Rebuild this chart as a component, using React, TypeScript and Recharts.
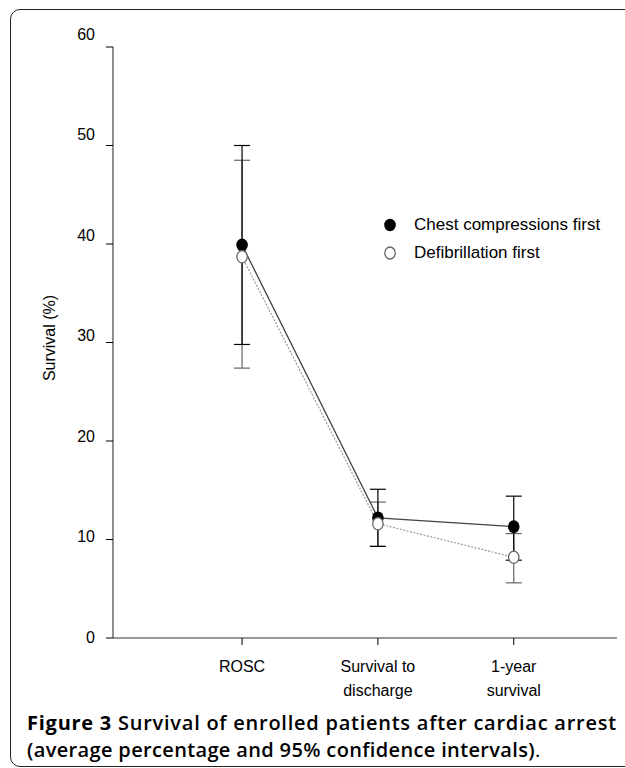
import { LineChart, Line, XAxis, YAxis, ErrorBar } from 'recharts'

// x positions of the three outcomes
const positions = [1, 2, 3]
const categoryLines = [['ROSC'], ['Survival to', 'discharge'], ['1-year', 'survival']]

// chest compressions first (filled)
const compressionsMean = [39.9, 12.2, 11.3]
const compressionsLow = [29.8, 9.3, 7.9]
const compressionsHigh = [50.0, 15.1, 14.4]

// defibrillation first (open)
const defibMean = [38.7, 11.6, 8.2]
const defibLow = [27.4, 9.3, 5.6]
const defibHigh = [48.5, 13.8, 10.6]

const yTicks = [0, 10, 20, 30, 40, 50, 60]

const data = positions.map((x, i) => ({
  x,
  comp: compressionsMean[i],
  compErr: [compressionsMean[i] - compressionsLow[i], compressionsHigh[i] - compressionsMean[i]],
  defib: defibMean[i],
  defibErr: [defibMean[i] - defibLow[i], defibHigh[i] - defibMean[i]],
}))

const FONT = '"Liberation Sans", Arial, sans-serif'

function YTick(props: any) {
  const { x, y, payload } = props
  // labels drift slightly upward relative to the ticks in the original
  const shift = -1 - (payload.value / 60) * 12
  return (
    <text x={x - 9} y={y + shift} textAnchor="end" dominantBaseline="central"
      fontFamily={FONT} fontSize={16} fill="#000">
      {payload.value}
    </text>
  )
}

function XTick(props: any) {
  const { x, y, payload } = props
  const idx = positions.indexOf(payload.value)
  const lines = categoryLines[idx] || []
  return (
    <text x={x} y={y} textAnchor="middle" fontFamily={FONT} fontSize={16} fill="#000">
      {lines.map((l, i) => (
        <tspan key={i} x={x} dy={i === 0 ? 25 : 24}>{l}</tspan>
      ))}
    </text>
  )
}

function filledDot(props: any) {
  const { cx, cy, index } = props
  if (cx == null || cy == null) return <g key={`f-${index}`} />
  return <ellipse key={`f-${index}`} cx={cx} cy={cy} rx={5.8} ry={6.4} fill="#000" />
}

function openDot(props: any) {
  const { cx, cy, index } = props
  if (cx == null || cy == null) return <g key={`o-${index}`} />
  return <ellipse key={`o-${index}`} cx={cx} cy={cy} rx={5.2} ry={6.2} fill="#fff" stroke="#666" strokeWidth={1.3} />
}

export default function App() {
  return (
    <div style={{ position: 'fixed', left: 0, top: 0, width: 625, height: 768, overflow: 'hidden', background: '#fff' }}>
      <div style={{
        position: 'absolute', left: 10, top: 9, width: 1000, height: 756,
        border: '1.5px solid #222', borderRadius: 10,
      }} />

      <div style={{ position: 'absolute', left: 0, top: 0 }}>
        <LineChart width={625} height={700} data={data} margin={{ top: 47, right: 8, bottom: 0, left: 0 }}>
          <XAxis
            dataKey="x"
            type="number"
            domain={[0.05, 3.76]}
            ticks={positions}
            allowDataOverflow
            height={62}
            tickSize={7}
            axisLine={{ stroke: '#777', strokeWidth: 1.3 }}
            tickLine={{ stroke: '#000' }}
            tick={<XTick />}
          />
          <YAxis
            type="number"
            domain={[0, 60]}
            ticks={yTicks}
            width={113}
            tickSize={7}
            axisLine={{ stroke: '#555', strokeWidth: 1.3 }}
            tickLine={{ stroke: '#000' }}
            tick={<YTick />}
          />
          <Line
            dataKey="defib"
            stroke="#999"
            strokeWidth={1.2}
            strokeDasharray="2 1.5"
            dot={false}
            activeDot={false}
            isAnimationActive={false}
          >
            <ErrorBar dataKey="defibErr" direction="y" width={8} stroke="#666" strokeWidth={1.2} />
          </Line>
          <Line
            dataKey="comp"
            stroke="#444"
            strokeWidth={1.3}
            dot={filledDot}
            activeDot={false}
            isAnimationActive={false}
          >
            <ErrorBar dataKey="compErr" direction="y" width={8} stroke="#000" strokeWidth={1.2} />
          </Line>
          <Line
            dataKey="defib"
            stroke="none"
            dot={openDot}
            activeDot={false}
            legendType="none"
            isAnimationActive={false}
          />
        </LineChart>
      </div>

      <div style={{
        position: 'absolute', left: 50, top: 338, transform: 'translate(-50%, -50%) rotate(-90deg)',
        fontFamily: FONT, fontSize: 16, whiteSpace: 'nowrap', color: '#000',
      }}>
        Survival (%)
      </div>

      {/* legend */}
      <svg style={{ position: 'absolute', left: 380, top: 215 }} width={20} height={50}>
        <ellipse cx={10} cy={10} rx={5.8} ry={6.2} fill="#000" />
        <ellipse cx={10} cy={38} rx={5.2} ry={6} fill="#fff" stroke="#666" strokeWidth={1.3} />
      </svg>
      <div style={{ position: 'absolute', left: 414, top: 214, fontFamily: FONT, fontSize: 17, lineHeight: '21px', whiteSpace: 'nowrap' }}>
        Chest compressions first
      </div>
      <div style={{ position: 'absolute', left: 414, top: 242, fontFamily: FONT, fontSize: 17, lineHeight: '21px', whiteSpace: 'nowrap' }}>
        Defibrillation first
      </div>

      <div style={{
        position: 'absolute', left: 27, top: 710, width: 600,
        fontFamily: '"Open Sans", sans-serif', fontSize: 20, lineHeight: '26.5px',
        color: '#000', whiteSpace: 'nowrap',
      }}>
        <div style={{ letterSpacing: 0.75 }}>
          <span style={{ fontWeight: 700 }}>Figure 3 </span>
          <span style={{ fontWeight: 600 }}>Survival of enrolled patients after cardiac arrest</span>
        </div>
        <div style={{ letterSpacing: 0.35 }}>
          <span style={{ fontWeight: 600 }}>(average percentage and 95% confidence intervals)</span>
          <span style={{ fontWeight: 400 }}>.</span>
        </div>
      </div>
    </div>
  )
}
